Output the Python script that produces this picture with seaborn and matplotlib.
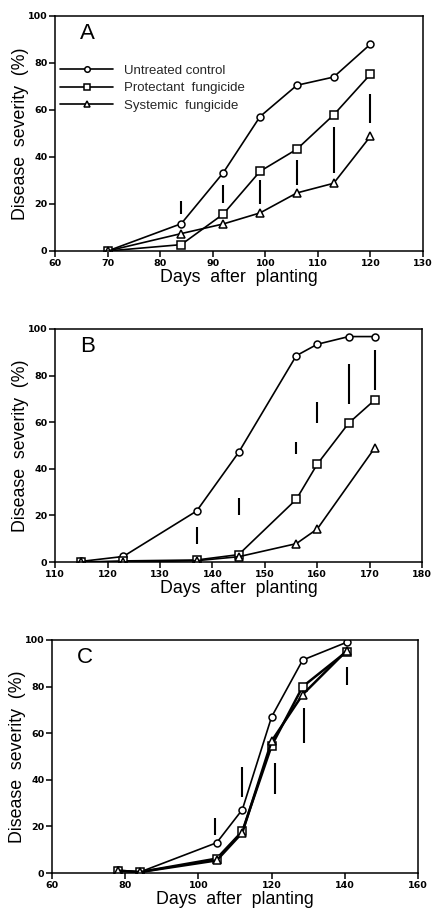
import numpy as np
import pandas as pd
import seaborn as sns
import matplotlib.pyplot as plt

# panel A
dias_a = [70, 84, 92, 99, 106, 113, 120]
untreated_a = [0, 11.6, 33.3, 57.2, 70.5, 74, 88]
protect_a = [0, 2.7, 15.7, 33.9, 43.3, 57.9, 75.2]
system_a = [0, 7.4, 11.5, 16.2, 24.7, 28.8, 48.8]
lsd_x_a = [84, 92, 99, 106, 113, 120]
lsd_lo_a = [15.9, 20.4, 19.9, 27.9, 33.2, 54.5]
lsd_hi_a = [21.3, 27.9, 30.0, 38.6, 52.8, 66.7]

# panel B
dias_b = [115, 123, 137, 145, 156, 160, 166, 171]
untreated_b = [0.3, 2.4, 21.9, 47, 88.5, 93.4, 96.7, 96.7]
protect_b = [0, 0.5, 0.9, 3.2, 26.9, 42, 59.6, 69.6]
dias_b_sys = [115, 123, 137, 145, 156, 160, 171]
system_b = [0, 0, 0.6, 2.3, 7.9, 14.2, 49.1]
lsd_x_b = [137, 145, 156, 160, 166, 171]
lsd_lo_b = [7.9, 20.1, 46.3, 59.7, 68.0, 74.0]
lsd_hi_b = [15.0, 27.5, 51.6, 68.8, 85.0, 91.0]

# panel C
dias_c = [78, 84, 105, 112, 120, 128.5, 140.5]
untreated_c = [1.1, 0.4, 13, 27.2, 67, 91.4, 99]
protect_c = [1, 0.4, 6.2, 17.9, 54.6, 80, 95]
system_c = [1, 0.4, 5.4, 17.3, 56.6, 76.6, 95.4]
lsd_x_c = [104.5, 111.8, 121, 128.8, 140.5]
lsd_lo_c = [16.5, 32.7, 34.1, 55.6, 80.7]
lsd_hi_c = [23.8, 45.6, 47.4, 70.9, 88.5]

labels = ['Untreated control', 'Protectant  fungicide', 'Systemic  fungicide']

sns.set_style('ticks')
plt.rcParams['font.family'] = ['Liberation Sans', 'DejaVu Sans']

fig = plt.figure(figsize=(4.37, 9.11), dpi=100)
posicoes = [
    [0.126, 0.7245, 0.842, 0.258],
    [0.126, 0.383, 0.840, 0.256],
    [0.119, 0.0417, 0.8375, 0.2558],
]
paineis = [
    ('A', [(dias_a, untreated_a), (dias_a, protect_a), (dias_a, system_a)],
     (lsd_x_a, lsd_lo_a, lsd_hi_a), (60, 130, 10)),
    ('B', [(dias_b, untreated_b), (dias_b, protect_b), (dias_b_sys, system_b)],
     (lsd_x_b, lsd_lo_b, lsd_hi_b), (110, 180, 10)),
    ('C', [(dias_c, untreated_c), (dias_c, protect_c), (dias_c, system_c)],
     (lsd_x_c, lsd_lo_c, lsd_hi_c), (60, 160, 20)),
]
marcadores = ['o', 's', '^']
tamanhos = [5, 5.2, 5.8]

for pos, (letra, series, lsd, (x0, x1, passo)) in zip(posicoes, paineis):
    ax = fig.add_axes(pos)
    for i, (xs, ys) in enumerate(series):
        largura = 1.2
        if letra == 'C' and i > 0:
            largura = 1.8
        sns.lineplot(x=xs, y=ys, ax=ax, color='black', linewidth=largura,
                     marker=marcadores[i], markersize=tamanhos[i],
                     markerfacecolor='white', markeredgecolor='black',
                     markeredgewidth=1.1, label=labels[i], legend=False)
    ax.vlines(lsd[0], lsd[1], lsd[2], color='black', linewidth=1.5)
    ax.set_xlim(x0, x1)
    ax.set_ylim(0, 100)
    ax.set_xticks(np.arange(x0, x1 + 1, passo))
    ax.set_yticks(np.arange(0, 101, 20))
    for s in ax.spines.values():
        s.set_visible(True)
        s.set_linewidth(1.1)
        s.set_color('black')
    ax.tick_params(direction='out', length=4, width=1.1, pad=1.5,
                   labelsize=6.8, colors='black')
    for t in ax.get_xticklabels() + ax.get_yticklabels():
        t.set_fontweight('bold')
        t.set_family('DejaVu Sans')
    ax.set_xlabel('Days  after  planting', fontsize=12.8, labelpad=1,
                  color='black')
    ax.set_ylabel('Disease  severity  (%)', fontsize=12.8, labelpad=-1,
                  color='black')
    ax.text(0.068, 0.925, letra, transform=ax.transAxes, fontsize=16,
            ha='left', va='center', color='black')
    if letra == 'A':
        ax.legend(loc='upper left', bbox_to_anchor=(0.0, 0.815), frameon=False,
                  fontsize=9.5, handlelength=4.0, labelspacing=0.4,
                  borderaxespad=0, handletextpad=0.8, markerscale=0.8)

plt.savefig('out.png', dpi=100)
